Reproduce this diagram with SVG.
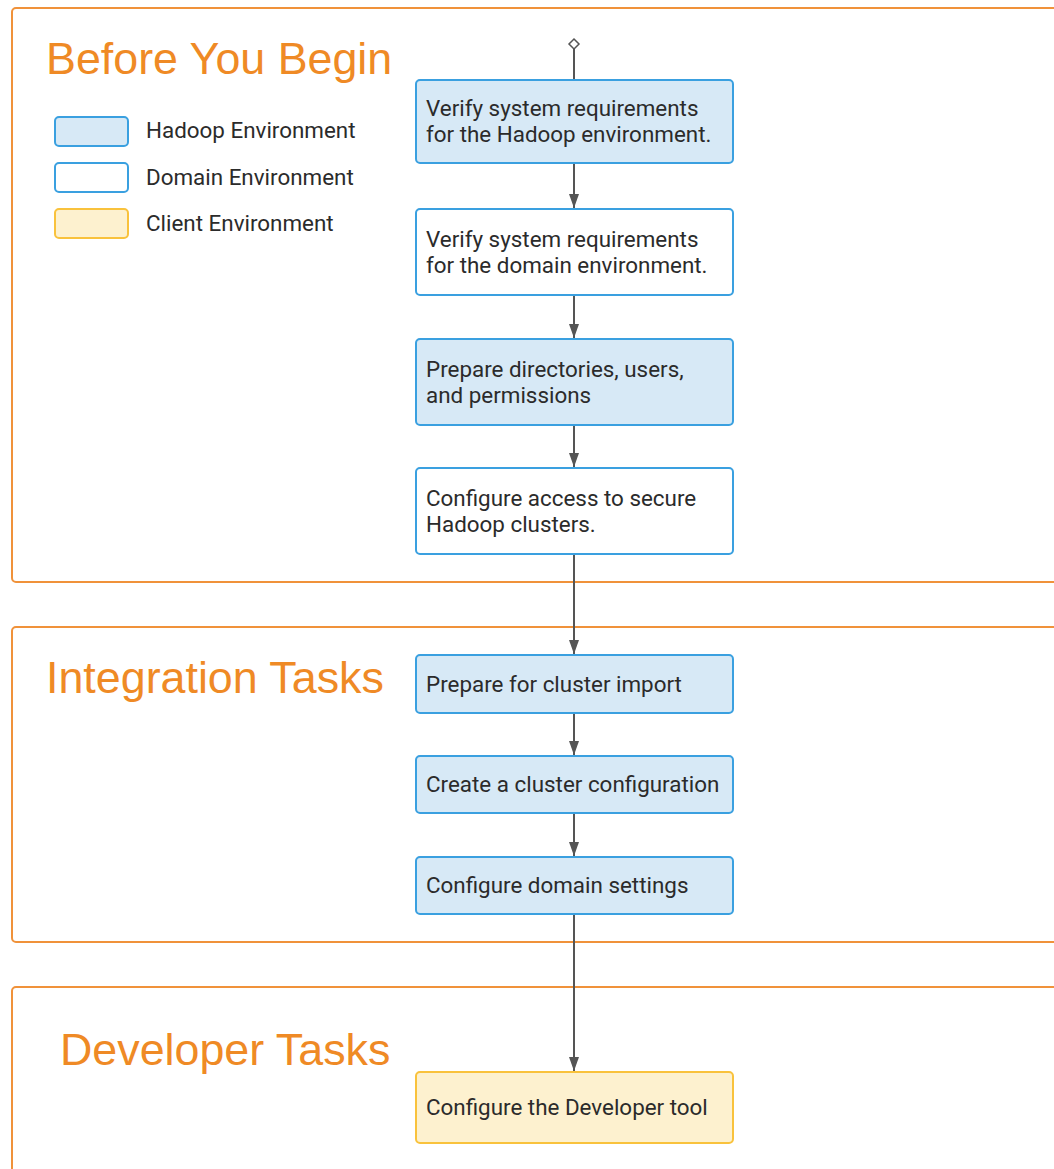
<svg xmlns="http://www.w3.org/2000/svg" width="1054" height="1169" viewBox="0 0 1054 1169">
<defs>
<style>
.sec{fill:#fff;stroke:#f0923a;stroke-width:2}
.title{font-family:"Liberation Sans",Arial,sans-serif;font-size:44.8px;fill:#ef8a25}
.had{fill:#d7e9f6;stroke:#3aa0e0;stroke-width:2}
.dom{fill:#fff;stroke:#3aa0e0;stroke-width:2}
.cli{fill:#fdf1cf;stroke:#f9c23c;stroke-width:2}
.t{font-family:Roboto,"Liberation Sans",sans-serif;font-size:22.4px;fill:#2b2b2b}
.c{stroke:#555;stroke-width:2;fill:none}
</style>
<marker id="ah" markerWidth="14" markerHeight="10" refX="14" refY="5" orient="auto" markerUnits="userSpaceOnUse" viewBox="0 0 14 10">
<path d="M0,0 L14,5 L0,10 Z" fill="#555"/>
</marker>
</defs>
<rect width="1054" height="1169" fill="#fff"/>
<g id="sections">
<rect class="sec" x="12" y="8" width="1060" height="574" rx="4"/>
<rect class="sec" x="12" y="627" width="1060" height="315" rx="4"/>
<rect class="sec" x="12" y="987" width="1060" height="200" rx="4"/>
<text class="title" x="46" y="74">Before You Begin</text>
<text class="title" x="46" y="693">Integration Tasks</text>
<text class="title" x="60" y="1065">Developer Tasks</text>
</g>
<g id="legend">
<rect class="had" x="55" y="117" width="73" height="29" rx="4"/>
<rect class="dom" x="55" y="163" width="73" height="29" rx="4"/>
<rect class="cli" x="55" y="209" width="73" height="29" rx="4"/>
<text class="t" x="146" y="138">Hadoop Environment</text>
<text class="t" x="146" y="185">Domain Environment</text>
<text class="t" x="146" y="231">Client Environment</text>
</g>
<g id="connectors">
<path d="M574,39 L579,44 L574,49 L569,44 Z" fill="#fff" stroke="#555" stroke-width="1.5"/>
<line class="c" x1="574" y1="49" x2="574" y2="80"/>
<line class="c" x1="574" y1="164" x2="574" y2="208" marker-end="url(#ah)"/>
<line class="c" x1="574" y1="296" x2="574" y2="338" marker-end="url(#ah)"/>
<line class="c" x1="574" y1="426" x2="574" y2="467" marker-end="url(#ah)"/>
<line class="c" x1="574" y1="555" x2="574" y2="654" marker-end="url(#ah)"/>
<line class="c" x1="574" y1="714" x2="574" y2="755" marker-end="url(#ah)"/>
<line class="c" x1="574" y1="814" x2="574" y2="856" marker-end="url(#ah)"/>
<line class="c" x1="574" y1="915" x2="574" y2="1071" marker-end="url(#ah)"/>
</g>
<g id="n1"><rect class="had" x="416" y="80" width="317" height="83" rx="4"/>
<text class="t" x="426" y="116">Verify system requirements</text><text class="t" x="426" y="142">for the Hadoop environment.</text></g>
<g id="n2"><rect class="dom" x="416" y="209" width="317" height="86" rx="4"/>
<text class="t" x="426" y="247">Verify system requirements</text><text class="t" x="426" y="273">for the domain environment.</text></g>
<g id="n3"><rect class="had" x="416" y="339" width="317" height="86" rx="4"/>
<text class="t" x="426" y="377">Prepare directories, users,</text><text class="t" x="426" y="403">and permissions</text></g>
<g id="n4"><rect class="dom" x="416" y="468" width="317" height="86" rx="4"/>
<text class="t" x="426" y="506">Configure access to secure</text><text class="t" x="426" y="532">Hadoop clusters.</text></g>
<g id="n5"><rect class="had" x="416" y="655" width="317" height="58" rx="4"/>
<text class="t" x="426" y="692">Prepare for cluster import</text></g>
<g id="n6"><rect class="had" x="416" y="756" width="317" height="57" rx="4"/>
<text class="t" x="426" y="792">Create a cluster configuration</text></g>
<g id="n7"><rect class="had" x="416" y="857" width="317" height="57" rx="4"/>
<text class="t" x="426" y="893">Configure domain settings</text></g>
<g id="n8"><rect class="cli" x="416" y="1072" width="317" height="71" rx="4"/>
<text class="t" x="426" y="1115">Configure the Developer tool</text></g>
</svg>
